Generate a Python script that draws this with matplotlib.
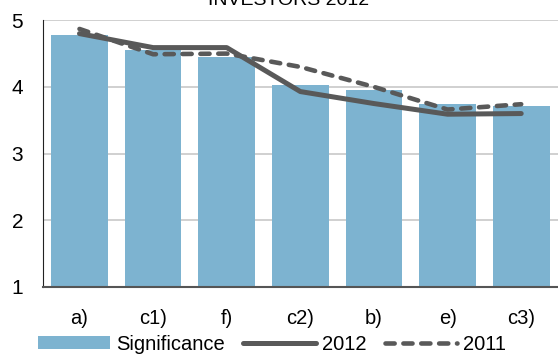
import numpy as np
import matplotlib
matplotlib.use("Agg")
import matplotlib.pyplot as plt

plt.rcParams['font.family'] = ['Liberation Sans', 'DejaVu Sans']

# data
categories = ['a)', 'c1)', 'f)', 'c2)', 'b)', 'e)', 'c3)']
significance = [4.78, 4.55, 4.45, 4.03, 3.95, 3.75, 3.71]
y2012 = [4.80, 4.59, 4.59, 3.93, 3.75, 3.59, 3.60]
y2011 = [4.87, 4.49, 4.50, 4.30, 4.00, 3.66, 3.74]

bar_color = '#7DB3D0'
line_color = '#595959'

fig = plt.figure(figsize=(5.58, 3.54), dpi=100)
ax = fig.add_axes([0.0765, 0.19, 0.9235, 0.7527])

x = np.arange(len(categories))
bars = ax.bar(x, np.array(significance) - 1, bottom=1, width=0.77,
              color=bar_color, label='Significance', zorder=2)
l12, = ax.plot(x, y2012, color=line_color, lw=3.6, solid_capstyle='round',
               solid_joinstyle='round', label='2012', zorder=3)
l11, = ax.plot(x, y2011, color=line_color, lw=3.3, dashes=(2, 1.9),
               dash_capstyle='round', label='2011', zorder=3)

ax.set_xlim(-0.5, 6.5)
ax.set_ylim(1, 5)
ax.set_yticks([1, 2, 3, 4, 5])
ax.set_xticks(x)
ax.set_xticklabels(categories, fontsize=14.5)
ax.tick_params(axis='x', length=0, pad=16)
ax.tick_params(axis='y', length=0, pad=14, labelsize=15)
ax.grid(axis='y', color='#C8C8C8', lw=1.2, zorder=0)
ax.set_axisbelow(True)
for s in ['top', 'right']:
    ax.spines[s].set_visible(False)
ax.spines['left'].set_color('#222222')
ax.spines['bottom'].set_color('#555555')
ax.spines['bottom'].set_linewidth(1.5)

# title sits partly above the top edge, as in the original crop
fig.text(0.518, 0.985, 'INVESTORS 2012', ha='center', va='baseline', fontsize=14)

ax.legend([bars, l12, l11], ['Significance', '2012', '2011'],
          loc='center', bbox_to_anchor=(0.445, -0.215), ncol=3, frameon=False,
          fontsize=14.5, handlelength=3.6, handleheight=0.65, handletextpad=0.3,
          columnspacing=0.9, borderpad=0)

fig.savefig('out.png', dpi=100)
